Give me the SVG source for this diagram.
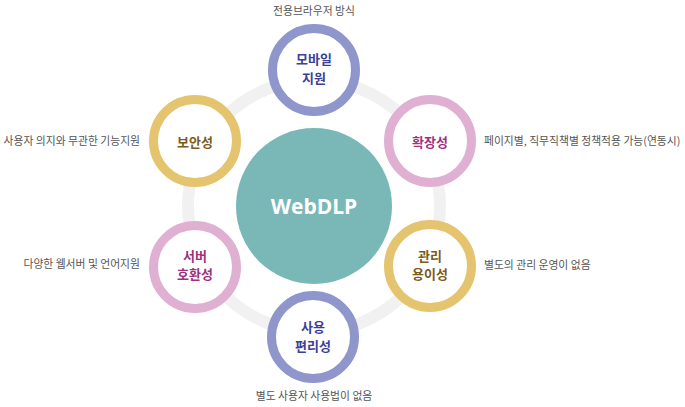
<svg xmlns="http://www.w3.org/2000/svg" width="685" height="407" viewBox="0 0 685 407">
<style>
.ring{fill:#fff;stroke-width:9}
.blue{stroke:#8e96cc}
.pink{stroke:#dfb0d2}
.gold{stroke:#e5c470}
.lbl{font-family:"Noto Sans CJK KR","Noto Sans",sans-serif;font-size:13px;font-weight:700;text-anchor:middle}
.tb{fill:#3d4096}
.tp{fill:#a0307f}
.tg{fill:#7a5b1b}
.desc{font-family:"Noto Sans CJK KR","Noto Sans",sans-serif;font-size:10.8px;fill:#555}
</style>
<rect width="685" height="407" fill="#fff"/>
<g id="connectors">
<circle cx="314" cy="206" r="126" fill="none" stroke="#f1f1f1" stroke-width="12"/>
</g>
<g id="center">
<circle cx="314" cy="206" r="78" fill="#79b8b7"/>
<text x="314" y="214" font-family="'Open Sans','Noto Sans',sans-serif" font-size="21" font-weight="700" fill="#fff" text-anchor="middle">WebDLP</text>
</g>
<g id="node-mobile">
<circle class="ring blue" cx="314" cy="70" r="41.5"/>
<text class="lbl tb" x="314" y="64">모바일</text>
<text class="lbl tb" x="314" y="83">지원</text>
<text class="desc" x="314" y="15" text-anchor="middle">전용브라우저 방식</text>
</g>
<g id="node-security">
<circle class="ring gold" cx="195" cy="141" r="41.5"/>
<text class="lbl tg" x="195" y="147">보안성</text>
<text class="desc" x="140" y="145" text-anchor="end">사용자 의지와 무관한 기능지원</text>
</g>
<g id="node-extension">
<circle class="ring pink" cx="430" cy="141" r="41.5"/>
<text class="lbl tp" x="430" y="147">확장성</text>
<text class="desc" x="484" y="145">페이지별, 직무직책별 정책적용 가능(연동시)</text>
</g>
<g id="node-server">
<circle class="ring pink" cx="195" cy="267" r="41.5"/>
<text class="lbl tp" x="195" y="260.5">서버</text>
<text class="lbl tp" x="195" y="279">호환성</text>
<text class="desc" x="140" y="268" text-anchor="end">다양한 웹서버 및 언어지원</text>
</g>
<g id="node-manage">
<circle class="ring gold" cx="430" cy="266" r="41.5"/>
<text class="lbl tg" x="430" y="260.5">관리</text>
<text class="lbl tg" x="430" y="279">용이성</text>
<text class="desc" x="484" y="269">별도의 관리 운영이 없음</text>
</g>
<g id="node-usability">
<circle class="ring blue" cx="313" cy="337" r="41.5"/>
<text class="lbl tb" x="313" y="332">사용</text>
<text class="lbl tb" x="313" y="350.5">편리성</text>
<text class="desc" x="314" y="400" text-anchor="middle">별도 사용자 사용법이 없음</text>
</g>
</svg>
